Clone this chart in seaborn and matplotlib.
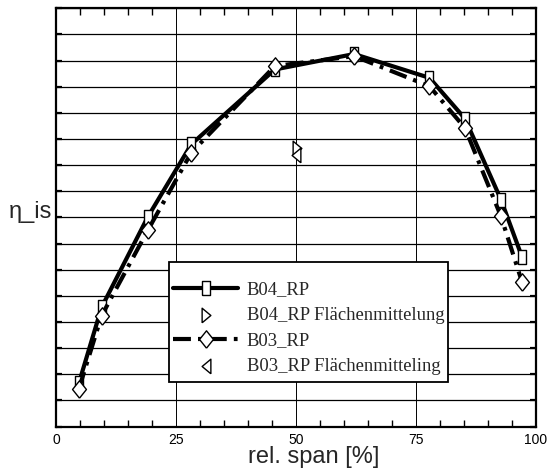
import matplotlib
matplotlib.use("Agg")
import matplotlib.pyplot as plt
import seaborn as sns
import numpy as np
import pandas as pd
from matplotlib.ticker import MultipleLocator, NullFormatter
from matplotlib.patches import Rectangle

sns.set_theme(style="white")
plt.rcParams['font.family'] = ['Liberation Sans', 'DejaVu Sans']

# ---- data ----
span = [4.75, 9.5, 19.1, 28.2, 45.6, 62.1, 77.8, 85.2, 92.7, 97.1]
eta_b04 = [0.8165, 0.8456, 0.8801, 0.9080, 0.9366, 0.9425, 0.9334, 0.9178, 0.8868, 0.8648]
eta_b03 = [0.8143, 0.8424, 0.8750, 0.9048, 0.9379, 0.9417, 0.9302, 0.9142, 0.8804, 0.8552]
span_b04_fm = [50.2]
eta_b04_fm = [0.9067]
span_b03_fm = [49.9]
eta_b03_fm = [0.9039]
x_ticks = [0, 25, 50, 75, 100]
x_ticklabels = ["0", "25", "50", "75", "100"]

df04 = pd.DataFrame({"span": span, "eta": eta_b04})
df03 = pd.DataFrame({"span": span, "eta": eta_b03})

# marker shapes
m_rect = [(-0.6, -1), (0.6, -1), (0.6, 1), (-0.6, 1), (-0.6, -1)]
m_diam = [(0, -1), (0.8, 0), (0, 1), (-0.8, 0), (0, -1)]
m_right = [(-0.6, -1), (0.6, 0), (-0.6, 1), (-0.6, -1)]
m_left = [(0.6, -1), (-0.6, 0), (0.6, 1), (0.6, -1)]

fig = plt.figure(figsize=(5.49, 4.70), dpi=100)
ax_l, ax_r, ax_t, ax_b = 56, 536, 8.3, 426.5
W, H = ax_r - ax_l, ax_b - ax_t
ax = fig.add_axes([ax_l/549, 1-ax_b/470, W/549, H/470])

def fx(px):
    return (px - ax_l) / W

def fy(py):
    return (ax_b - py) / H

sns.lineplot(data=df04, x="span", y="eta", ax=ax, sort=False, estimator=None,
             color="black", lw=3.0, marker=m_rect, markersize=10.5,
             markerfacecolor="white", markeredgecolor="black", markeredgewidth=1.0,
             label="B04_RP", zorder=4)
sns.scatterplot(x=span_b04_fm, y=eta_b04_fm, ax=ax, marker=m_right, s=110,
                facecolor="white", edgecolor="black", linewidth=1.0,
                label="B04_RP Flächenmittelung", zorder=5)
sns.lineplot(data=df03, x="span", y="eta", ax=ax, sort=False, estimator=None,
             color="black", lw=3.0, marker=m_diam, markersize=12.5,
             markerfacecolor="white", markeredgecolor="black", markeredgewidth=1.0,
             label="B03_RP", zorder=5)
ln03 = ax.lines[-1]
ln03.set_dashes([4.3, 1.7, 0.9, 1.7])
ln03.set_dash_capstyle("butt")
sns.scatterplot(x=span_b03_fm, y=eta_b03_fm, ax=ax, marker=m_left, s=110,
                facecolor="white", edgecolor="black", linewidth=1.0,
                label="B03_RP Flächenmitteling", zorder=5)

ax.set_xlim(0, 100)
ax.set_ylim(0.80, 0.96)
ax.set_xticks(x_ticks)
ax.set_xticklabels(x_ticklabels, fontsize=10, color="black")
ax.xaxis.set_minor_locator(MultipleLocator(5))
ax.yaxis.set_major_locator(MultipleLocator(0.01))
ax.yaxis.set_major_formatter(NullFormatter())

ax.grid(True, which="major", axis="y", color="black", lw=0.9)
ax.grid(True, which="major", axis="x", color="black", lw=0.7)
ax.tick_params(axis="x", which="both", direction="in", top=True, bottom=True,
               color="black", width=1.0)
ax.tick_params(axis="x", which="major", length=0, pad=5)
ax.tick_params(axis="x", which="minor", length=5)
ax.tick_params(axis="y", which="major", direction="in", left=True, right=True,
               length=4, width=1.6, color="black")
for s in ax.spines.values():
    s.set_color("black")
    s.set_linewidth(1.6)

ax.set_xlabel("rel. span [%]", fontsize=17, va="center")
ax.xaxis.set_label_coords(0.537, fy(457))
ax.set_ylabel("η_is", fontsize=17, rotation=0, va="center", ha="center")
ax.yaxis.set_label_coords(fx(30), fy(211.7))

# legend box (frame drawn separately for exact padding)
box = Rectangle((fx(169), fy(382)), fx(448) - fx(169), fy(262) - fy(382),
                transform=ax.transAxes, facecolor="white", edgecolor="black",
                lw=1.3, zorder=9)
ax.add_patch(box)

leg = ax.legend(loc="upper left",
                bbox_to_anchor=(fx(173), fy(281)),
                prop={"family": "Liberation Serif", "size": 13.4},
                frameon=False, handlelength=3.5, handletextpad=0.45,
                labelspacing=0.46, borderpad=0, borderaxespad=0)
leg.set_zorder(10)

fig.savefig("out.png", dpi=100)
